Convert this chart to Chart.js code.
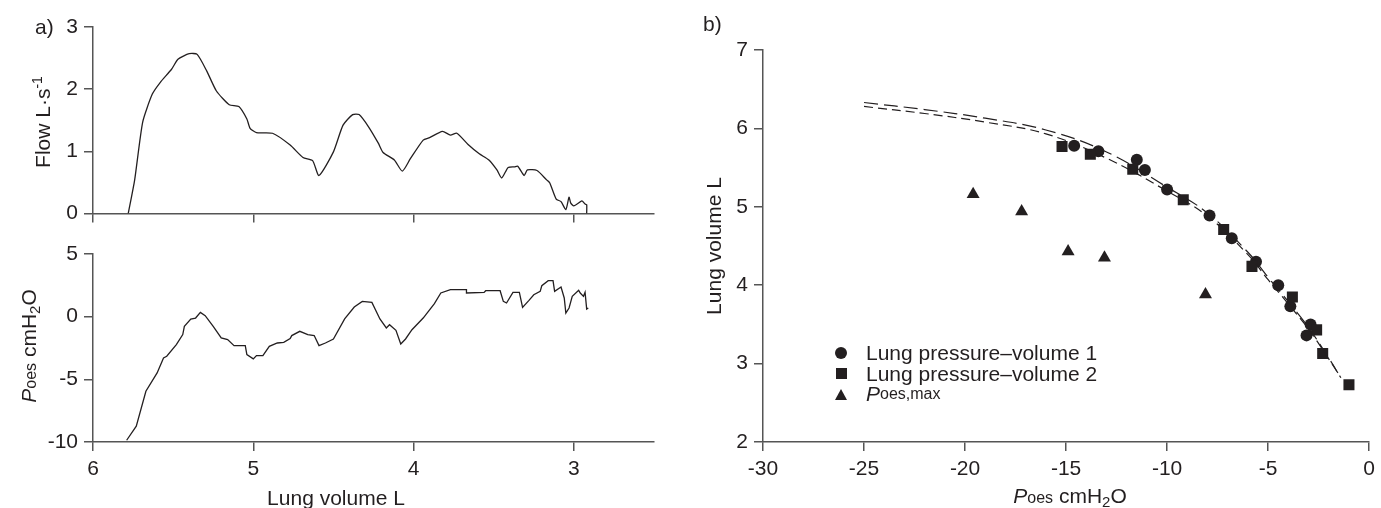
<!DOCTYPE html>
<html>
<head>
<meta charset="utf-8">
<script src="https://cdn.jsdelivr.net/npm/chart.js@4.4.1/dist/chart.umd.min.js"></script>
<style>
  body { margin: 0; background: #fff; }
  #page { position: relative; width: 1381px; height: 508px; overflow: hidden;
          font-family: "Liberation Sans", Arial, sans-serif; color: #231f20; }
  .box { position: absolute; }
  .lbl { position: absolute; font-size: 21px; white-space: nowrap; line-height: 1; }
  .c { transform: translate(-50%, -50%); }
  .r { transform: translate(-50%, -50%) rotate(-90deg); }
  .sm { font-size: 16px; }
  sub { font-size: 15px; vertical-align: -4px; line-height: 0; }
  sup { font-size: 14px; vertical-align: 8px; line-height: 0; }
  .leg { position: absolute; left: 834px; top: 343px; font-size: 21px; }
  .leg div { height: 20.5px; display: flex; align-items: center; white-space: nowrap; }
  .mk { width: 14px; height: 14px; margin-right: 18px; display: flex; align-items: center; justify-content: center; }
  .dot { width: 12px; height: 12px; border-radius: 50%; background: #231f20; }
  .sq { width: 11px; height: 11px; background: #231f20; }
  .tri { width: 0; height: 0; border-left: 6.5px solid transparent; border-right: 6.5px solid transparent; border-bottom: 11px solid #231f20; }
</style>
</head>
<body>
<div id="page">
  <div class="box" style="left:0;top:0;width:664px;height:232px"><canvas id="flowChart"></canvas></div>
  <div class="box" style="left:0;top:230px;width:664px;height:278px"><canvas id="poesChart"></canvas></div>
  <div class="box" style="left:680px;top:0;width:701px;height:508px"><canvas id="pvChart"></canvas></div>

  <div class="lbl" style="left:35px;top:16px">a)</div>
  <div class="lbl" style="left:703px;top:13px">b)</div>
  <div class="lbl r" style="left:42px;top:122px">Flow L·s<sup>-1</sup></div>
  <div class="lbl r" style="left:28px;top:346px"><i>P</i><span class="sm">oes</span> cmH<sub>2</sub>O</div>
  <div class="lbl c" style="left:336px;top:497px">Lung volume L</div>
  <div class="lbl r" style="left:713px;top:246px">Lung volume L</div>
  <div class="lbl c" style="left:1070px;top:495px"><i>P</i><span class="sm">oes</span> cmH<sub>2</sub>O</div>

  <div class="leg">
    <div><span class="mk"><span class="dot"></span></span>Lung pressure–volume 1</div>
    <div><span class="mk"><span class="sq"></span></span>Lung pressure–volume 2</div>
    <div><span class="mk"><span class="tri"></span></span><i>P</i><span class="sm">oes,max</span></div>
  </div>
</div>

<script>
// panel a, top: flow against lung volume
const flowVol = [5.78, 5.74, 5.69, 5.63, 5.58, 5.51, 5.47, 5.40, 5.35, 5.29, 5.23, 5.15, 5.09, 5.04, 5.02, 4.98, 4.88, 4.77, 4.69, 4.63,
  4.59, 4.50, 4.44, 4.38, 4.34, 4.28, 4.22, 4.19, 4.12, 4.07, 4.02, 3.94, 3.90, 3.82, 3.77, 3.73, 3.66, 3.59, 3.53, 3.48,
  3.45, 3.41, 3.37, 3.35, 3.31, 3.29, 3.23, 3.17, 3.15, 3.11, 3.08, 3.05, 3.03, 3.02, 3.00, 2.95, 2.93, 2.92, 2.92];
const flowVals = [0, 0.54, 1.47, 1.92, 2.11, 2.32, 2.48, 2.57, 2.56, 2.29, 1.97, 1.75, 1.72, 1.52, 1.37, 1.30, 1.29, 1.10, 0.90, 0.85,
  0.61, 0.99, 1.42, 1.59, 1.59, 1.39, 1.13, 0.98, 0.86, 0.68, 0.88, 1.18, 1.22, 1.32, 1.26, 1.29, 1.11, 0.96, 0.86, 0.70,
  0.57, 0.74, 0.75, 0.76, 0.61, 0.70, 0.69, 0.54, 0.49, 0.23, 0.19, 0.06, 0.26, 0.17, 0.12, 0.20, 0.15, 0.14, 0];

// panel a, bottom: oesophageal pressure against lung volume
const poesVol = [5.79, 5.73, 5.67, 5.60, 5.56, 5.54, 5.48, 5.44, 5.43, 5.39, 5.36, 5.33, 5.30, 5.25, 5.20, 5.16, 5.12, 5.05, 5.04, 5.00,
  4.98, 4.94, 4.90, 4.85, 4.81, 4.77, 4.76, 4.71, 4.66, 4.62, 4.59, 4.55, 4.50, 4.43, 4.37, 4.32, 4.26, 4.21, 4.17, 4.15,
  4.11, 4.08, 4.05, 4.01, 3.94, 3.87, 3.83, 3.77, 3.67, 3.67, 3.56, 3.55, 3.46, 3.44, 3.42, 3.38, 3.34, 3.32, 3.28, 3.25,
  3.21, 3.20, 3.16, 3.13, 3.12, 3.08, 3.06, 3.05, 3.03, 3.01, 2.97, 2.96, 2.94, 2.93, 2.92, 2.91];
const poesVals = [-9.86, -8.74, -5.95, -4.49, -3.29, -3.16, -2.23, -1.43, -0.77, -0.19, -0.11, 0.34, 0.08, -0.77, -1.70, -1.83, -2.31, -2.31, -3.03, -3.37,
  -3.11, -3.11, -2.37, -2.10, -2.05, -1.75, -1.51, -1.17, -1.43, -1.51, -2.31, -2.10, -1.78, -0.18, 0.77, 1.22, 1.14, -0.18, -0.90, -0.64,
  -1.09, -2.18, -1.78, -1.04, -0.11, 1.04, 1.89, 2.15, 2.15, 1.89, 1.94, 2.07, 2.07, 1.22, 1.09, 1.94, 1.94, 0.74, 1.30, 1.75,
  2.02, 2.47, 2.87, 2.87, 2.02, 2.37, 1.49, 0.29, 0.69, 1.62, 2.10, 1.89, 1.62, 1.94, 0.61, 0.69];

// panel b: pressure-volume points and fitted curves
const pv1P = [-14.6, -13.4, -11.5, -11.1, -10.0, -7.9, -6.8, -5.6, -4.5, -3.9, -2.9, -3.1];
const pv1V = [5.78, 5.71, 5.60, 5.47, 5.22, 4.89, 4.60, 4.30, 4.00, 3.73, 3.50, 3.36];
const pv2P = [-15.2, -13.8, -11.7, -9.2, -7.2, -5.8, -3.8, -2.6, -2.3, -1.0];
const pv2V = [5.77, 5.67, 5.48, 5.09, 4.71, 4.24, 3.85, 3.43, 3.13, 2.73];
const maxP = [-19.6, -17.2, -14.9, -13.1, -8.1];
const maxV = [5.16, 4.94, 4.43, 4.35, 3.88];
const fitP = [-25, -22, -19, -16, -13, -10, -8, -6, -5, -4, -3, -2, -1.4];
const fit1V = [6.33, 6.24, 6.13, 5.98, 5.70, 5.25, 4.92, 4.42, 4.10, 3.79, 3.46, 3.07, 2.82];
const fit2V = [6.28, 6.19, 6.08, 5.93, 5.62, 5.20, 4.88, 4.39, 4.07, 3.76, 3.44, 3.06, 2.82];

const ink = '#231f20';
const axisGrey = '#555555';

Chart.defaults.font.family = '"Liberation Sans", Arial, sans-serif';
Chart.defaults.font.size = 21;
Chart.defaults.color = ink;

const pairs = (xs, ys) => xs.map((x, i) => ({ x: x, y: ys[i] }));

const axis = (min, max, step, size, horizontal, extra) => Object.assign({
  type: 'linear',
  min: min,
  max: max,
  border: { color: axisGrey, width: 1.5 },
  grid: { display: true, drawOnChartArea: false, drawTicks: true, tickLength: 9, color: axisGrey, lineWidth: 1.5 },
  ticks: { stepSize: step, padding: 6, color: ink },
  afterFit: horizontal ? (s) => { s.height = size; } : (s) => { s.width = size; }
}, extra || {});

const volumeAxis = (size, showLabels) => axis(2.5, 6, 1, size, true, {
  reverse: true,
  ticks: { stepSize: 1, padding: 6, color: ink, display: showLabels },
  afterBuildTicks: (s) => { s.ticks = s.ticks.filter(t => Number.isInteger(t.value)); }
});

const createChart = (id, datasets, scales, padding) => {
  return new Chart(document.getElementById(id), {
    type: 'scatter',
    data: { datasets: datasets },
    options: {
      responsive: true,
      maintainAspectRatio: false,
      animation: false,
      layout: { padding: padding },
      plugins: { legend: { display: false }, tooltip: { enabled: false } },
      scales: scales
    }
  });
};

const trace = (xs, ys, tension) => ({
  data: pairs(xs, ys),
  showLine: true,
  borderColor: ink,
  borderWidth: 1.3,
  pointRadius: 0,
  tension: tension
});

createChart('flowChart', [trace(flowVol, flowVals, 0.2)], {
  x: volumeAxis(16, false),
  y: axis(0, 3, 1, 93, false)
}, { left: 0, top: 27, right: 10, bottom: 0 });

createChart('poesChart', [trace(poesVol, poesVals, 0)], {
  x: volumeAxis(66, true),
  y: axis(-10, 5, 5, 93, false)
}, { left: 0, top: 24, right: 10, bottom: 0 });

const markers = (xs, ys, style, radius) => ({
  data: pairs(xs, ys),
  pointStyle: style,
  pointRadius: radius,
  backgroundColor: ink,
  borderColor: ink,
  borderWidth: 0
});

const fitLine = (ys, dash) => ({
  data: pairs(fitP, ys),
  showLine: true,
  borderColor: ink,
  borderWidth: 1.2,
  borderDash: dash,
  pointRadius: 0,
  tension: 0.4
});

createChart('pvChart', [
  fitLine(fit1V, [14, 6]),
  fitLine(fit2V, [9, 5]),
  markers(maxP, maxV, 'triangle', 7.5),
  markers(pv2P, pv2V, 'rect', 7.8),
  markers(pv1P, pv1V, 'circle', 6)
], {
  x: axis(-30, 0, 5, 66, true),
  y: axis(2, 7, 1, 83, false)
}, { left: 0, top: 50, right: 8, bottom: 0 });
</script>
</body>
</html>
